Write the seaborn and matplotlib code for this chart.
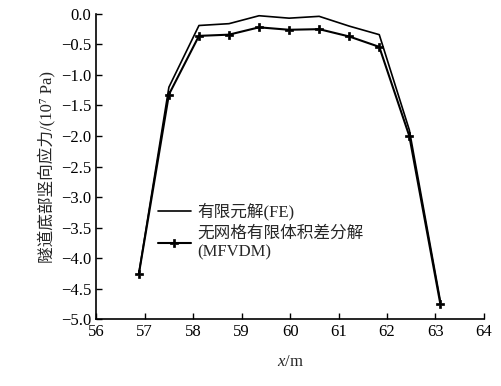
import matplotlib
matplotlib.use("Agg")
import matplotlib.pyplot as plt
import seaborn as sns
import pandas as pd

x_vals = [56.88, 57.50, 58.12, 58.74, 59.36, 59.98, 60.60, 61.22, 61.84, 62.46, 63.10]
fe_vals = [-4.25, -1.20, -0.19, -0.16, -0.03, -0.07, -0.04, -0.20, -0.34, -1.90, -4.70]
mfvdm_vals = [-4.26, -1.32, -0.36, -0.34, -0.22, -0.26, -0.25, -0.37, -0.54, -2.00, -4.75]
x_ticks = [56, 57, 58, 59, 60, 61, 62, 63, 64]
y_ticks = [0.0, -0.5, -1.0, -1.5, -2.0, -2.5, -3.0, -3.5, -4.0, -4.5, -5.0]

sns.set_style("ticks")
plt.rcParams['font.family'] = ['Liberation Serif', 'Noto Sans CJK SC']
plt.rcParams['mathtext.fontset'] = 'custom'
plt.rcParams['mathtext.it'] = 'Liberation Serif:italic'
plt.rcParams['mathtext.rm'] = 'Liberation Serif'
plt.rcParams['axes.unicode_minus'] = True

fig = plt.figure(figsize=(5.01, 3.86), dpi=100)
ax = fig.add_axes([0.192, 0.173, 0.774, 0.791])

df_fe = pd.DataFrame({"x": x_vals, "y": fe_vals})
df_mf = pd.DataFrame({"x": x_vals, "y": mfvdm_vals})
sns.lineplot(data=df_fe, x="x", y="y", ax=ax, color="black", lw=1.2, sort=False,
             label="有限元解(FE)")
sns.lineplot(data=df_mf, x="x", y="y", ax=ax, color="black", lw=1.5, sort=False,
             marker="P", markersize=6, markeredgewidth=0.5,
             markeredgecolor="black", markerfacecolor="black",
             label="无网格有限体积差分解\n(MFVDM)")

ax.set_xlim(56, 64)
ax.set_ylim(-5.0, 0.0)
ax.set_xticks(x_ticks)
ax.set_yticks(y_ticks)
ax.set_yticklabels([f"{v:.1f}".replace("-", "\u2212") for v in y_ticks])
ax.tick_params(direction="in", length=4, width=1, labelsize=12, colors="black")
for s in ["top", "right"]:
    ax.spines[s].set_visible(False)
for s in ["left", "bottom"]:
    ax.spines[s].set_linewidth(1.2)
    ax.spines[s].set_color("black")

ax.set_xlabel("$x$/m", fontsize=12, labelpad=10)
ax.set_ylabel("隧道底部竖向应力/(10\u2077 Pa)", fontsize=12, labelpad=4)

leg = ax.legend(loc="upper left", bbox_to_anchor=(0.12, 0.43), frameon=False,
                fontsize=12, handlelength=2.0, handletextpad=0.4, labelspacing=0.3)

fig.savefig("out.png", dpi=100)
